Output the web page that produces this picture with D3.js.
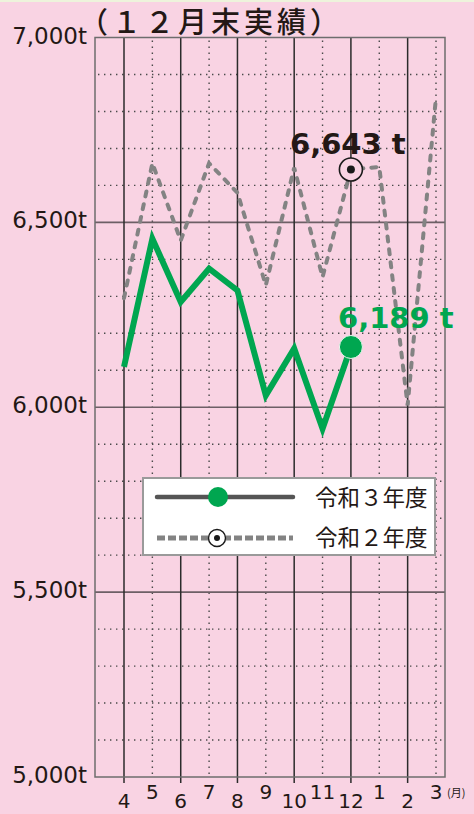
<!DOCTYPE html>
<html>
<head>
<meta charset="utf-8">
<script src="https://cdn.jsdelivr.net/npm/d3@7"></script>
<style>
html, body { margin: 0; padding: 0; background: #f9d3e3; }
svg { display: block; }
</style>
</head>
<body>
<svg id="chart" width="474" height="814"></svg>
<script>
'use strict';

// chart data
var months = ['4', '5', '6', '7', '8', '9', '10', '11', '12', '1', '2', '3'];
var yTicks = [5000, 5500, 6000, 6500, 7000];
var yTickLabels = ['5,000t', '5,500t', '6,000t', '6,500t', '7,000t'];
var seriesNames = ['令和３年度', '令和２年度'];
// 令和3年度 (Apr - Dec)
var r3Values = [6109, 6456, 6285, 6375, 6316, 6032, 6159, 5942, 6163];
// 令和2年度 (Apr - Mar)
var r2Values = [6295, 6660, 6451, 6660, 6580, 6330, 6648, 6352, 6643, 6650, 6005, 6839];
var r3Note = '6,189 t';
var r2Note = '6,643 t';
var titleText = '（１２月末実績）';
var monthUnit = '(月)';

var GREEN = '#00a650';
var GRAY = '#838383';
var BG = '#f9d3e3';
var NUM_FONT = '"DejaVu Sans", sans-serif';
var JP_FONT = '"Noto Sans CJK JP", sans-serif';

var plot = { left: 95, right: 445, top: 37.5, bottom: 777 };

var svg = d3.select('#chart');

var x = d3.scaleLinear().domain([0, 11]).range([124, 436]);
var y = d3.scaleLinear().domain([5000, 7000]).range([plot.bottom, plot.top]);

console.log('[chart] drawing', months.length, 'months');

// background + thin strip on top
svg.append('rect').attr('width', 474).attr('height', 814).attr('fill', BG);
svg.append('rect').attr('width', 474).attr('height', 2).attr('fill', '#eef3dc');

// title
svg.append('text')
	.attr('x', 79)
	.attr('y', 33)
	.attr('font-family', JP_FONT)
	.attr('font-size', 29)
	.attr('font-weight', 500)
	.attr('letter-spacing', 4)
	.attr('fill', '#231815')
	.text(titleText);

var grid = svg.append('g');

// dotted horizontals every 100t
var minorY = d3.range(5100, 7000, 100).filter(function(v){ return v % 500 !== 0; });
grid.selectAll('line.hdot').data(minorY).enter().append('line')
	.attr('class', 'hdot')
	.attr('x1', plot.left + 3).attr('x2', plot.right)
	.attr('y1', function(d){ return y(d); }).attr('y2', function(d){ return y(d); })
	.attr('stroke', '#4a4a4a').attr('stroke-width', 1.4)
	.attr('stroke-dasharray', '1.4,4.6');

// dotted verticals on odd months
var oddIdx = d3.range(1, 12, 2);
grid.selectAll('line.vdot').data(oddIdx).enter().append('line')
	.attr('class', 'vdot')
	.attr('x1', function(d){ return x(d); }).attr('x2', function(d){ return x(d); })
	.attr('y1', plot.top + 3).attr('y2', plot.bottom)
	.attr('stroke', '#4a4a4a').attr('stroke-width', 1.4)
	.attr('stroke-dasharray', '1.4,4.6');

// solid horizontals every 500t
grid.selectAll('line.hsol').data([5500, 6000, 6500]).enter().append('line')
	.attr('class', 'hsol')
	.attr('x1', plot.left).attr('x2', plot.right)
	.attr('y1', function(d){ return y(d); }).attr('y2', function(d){ return y(d); })
	.attr('stroke', '#6d5f66').attr('stroke-width', 1.6);

// solid verticals on even months, with a tick below the frame
var evenIdx = d3.range(0, 12, 2);
grid.selectAll('line.vsol').data(evenIdx).enter().append('line')
	.attr('class', 'vsol')
	.attr('x1', function(d){ return x(d); }).attr('x2', function(d){ return x(d); })
	.attr('y1', plot.top).attr('y2', plot.bottom + 6)
	.attr('stroke', '#2b2b2b').attr('stroke-width', 1.5);

// frame
svg.append('rect')
	.attr('x', plot.left).attr('y', plot.top)
	.attr('width', plot.right - plot.left).attr('height', plot.bottom - plot.top)
	.attr('fill', 'none').attr('stroke', '#6d6d6d').attr('stroke-width', 1.5);

// y labels
svg.selectAll('text.ylab').data(yTicks).enter().append('text')
	.attr('class', 'ylab')
	.attr('x', 87)
	.attr('y', function(d){ return y(d) + 6; })
	.attr('text-anchor', 'end')
	.attr('font-family', NUM_FONT)
	.attr('font-size', 23)
	.attr('fill', '#231815')
	.text(function(d, i){ return yTickLabels[i]; });

// x labels, alternating low/high
svg.selectAll('text.xlab').data(months).enter().append('text')
	.attr('class', 'xlab')
	.attr('x', function(d, i){ return x(i); })
	.attr('y', function(d, i){ return i % 2 === 0 ? 808 : 799; })
	.attr('text-anchor', 'middle')
	.attr('font-family', NUM_FONT)
	.attr('font-size', 20)
	.attr('fill', '#231815')
	.text(function(d){ return d; });

svg.append('text')
	.attr('x', 447).attr('y', 797)
	.attr('font-family', JP_FONT)
	.attr('font-size', 11)
	.attr('fill', '#231815')
	.text(monthUnit);

var line = d3.line()
	.x(function(d, i){ return x(i); })
	.y(function(d){ return y(d); });

// 令和2年度 dashed
svg.append('path')
	.datum(r2Values)
	.attr('d', line)
	.attr('fill', 'none')
	.attr('stroke', GRAY)
	.attr('stroke-width', 4)
	.attr('stroke-linecap', 'round')
	.attr('stroke-dasharray', '5,8');

// 令和3年度 solid
svg.append('path')
	.datum(r3Values)
	.attr('d', line)
	.attr('fill', 'none')
	.attr('stroke', GREEN)
	.attr('stroke-width', 6)
	.attr('stroke-linejoin', 'miter');

// end markers
var decIdx = 8;
var r2Mark = svg.append('g')
	.attr('transform', 'translate(' + x(decIdx) + ',' + y(r2Values[decIdx]) + ')');
r2Mark.append('circle').attr('r', 11.5).attr('fill', BG).attr('stroke', '#1a1a1a').attr('stroke-width', 1.6);
r2Mark.append('circle').attr('r', 4).attr('fill', '#1a1a1a');

svg.append('circle')
	.attr('cx', x(decIdx)).attr('cy', y(r3Values[decIdx]))
	.attr('r', 11.5)
	.attr('fill', GREEN)
	.attr('stroke', '#e9f6ee').attr('stroke-width', 1);

// value notes
svg.append('text')
	.attr('x', 290).attr('y', 154)
	.attr('font-family', NUM_FONT).attr('font-weight', 'bold').attr('font-size', 29)
	.attr('fill', '#231815')
	.text(r2Note);
svg.append('text')
	.attr('x', 338).attr('y', 328)
	.attr('font-family', NUM_FONT).attr('font-weight', 'bold').attr('font-size', 29)
	.attr('fill', GREEN)
	.text(r3Note);

// legend
var legend = svg.append('g').attr('transform', 'translate(143,478)');
legend.append('rect')
	.attr('width', 292).attr('height', 77)
	.attr('fill', '#ffffff').attr('stroke', '#9a9a9a').attr('stroke-width', 2);

legend.append('line')
	.attr('x1', 14).attr('x2', 150).attr('y1', 19).attr('y2', 19)
	.attr('stroke', '#555555').attr('stroke-width', 4.5).attr('stroke-linecap', 'round');
legend.append('circle').attr('cx', 75).attr('cy', 19).attr('r', 10).attr('fill', GREEN);

legend.append('line')
	.attr('x1', 14).attr('x2', 150).attr('y1', 60).attr('y2', 60)
	.attr('stroke', GRAY).attr('stroke-width', 5).attr('stroke-dasharray', '8,3');
legend.append('circle').attr('cx', 74).attr('cy', 60).attr('r', 8.5)
	.attr('fill', '#ffffff').attr('stroke', '#1a1a1a').attr('stroke-width', 1.4);
legend.append('circle').attr('cx', 74).attr('cy', 60).attr('r', 3).attr('fill', '#1a1a1a');

legend.selectAll('text.leg').data(seriesNames).enter().append('text')
	.attr('class', 'leg')
	.attr('x', 172)
	.attr('y', function(d, i){ return i === 0 ? 28 : 68; })
	.attr('font-family', JP_FONT)
	.attr('font-size', 22.5)
	.attr('fill', '#231815')
	.text(function(d){ return d; });
</script>
</body>
</html>
